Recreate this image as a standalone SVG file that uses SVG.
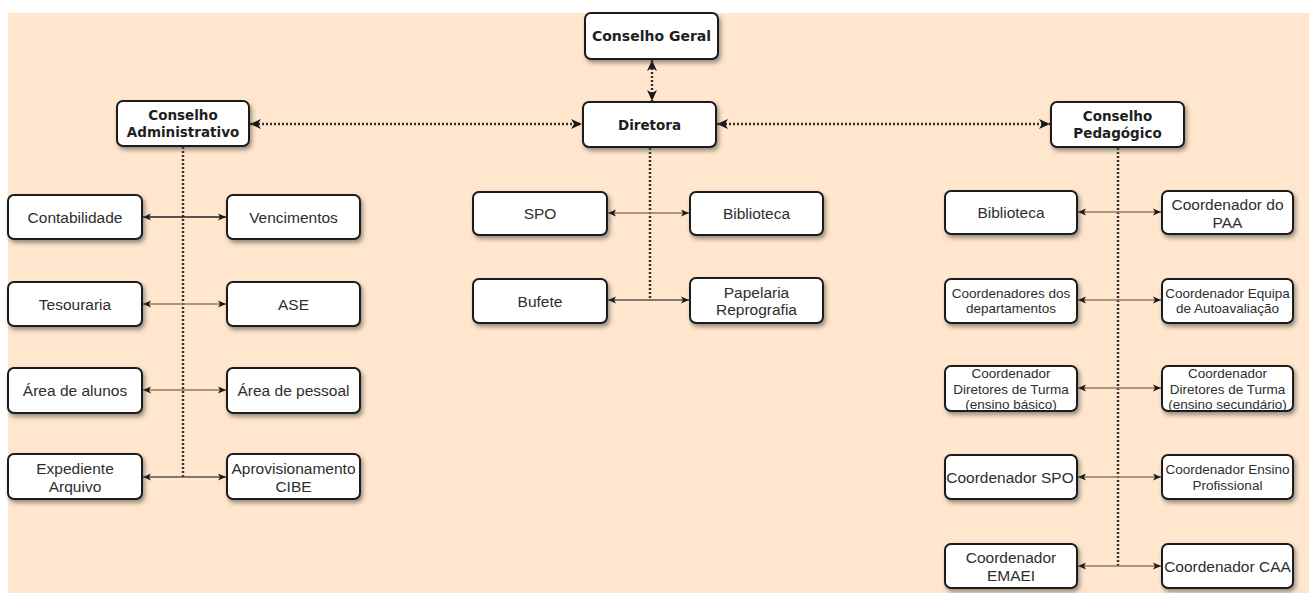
<svg xmlns="http://www.w3.org/2000/svg" width="1309" height="593" viewBox="0 0 1309 593">
<defs>
<style>
.bg{fill:#ffe6cc}
.box{fill:#ffffff;stroke:#1a1a1a;stroke-width:2;filter:url(#sh)}
.t{font-family:"Liberation Sans",Arial,sans-serif;font-size:15.5px;fill:#2e2e2e;text-anchor:middle;dominant-baseline:central}
.s{font-size:13.5px}
.h{font-family:"DejaVu Sans",Verdana,sans-serif;font-weight:bold;font-size:13.5px;fill:#1e1e1e;text-anchor:middle;dominant-baseline:central}
.dot{fill:none;stroke:#333;stroke-width:2.5;stroke-dasharray:2 2}
.dotA{fill:none;stroke:#333;stroke-width:2.5;stroke-dasharray:2 2;marker-start:url(#ab);marker-end:url(#ab)}
.ln{fill:none;stroke:#8c7a6a;stroke-width:1.3;marker-start:url(#a);marker-end:url(#a)}
.lnd{fill:none;stroke:#222;stroke-width:1.6;marker-start:url(#a);marker-end:url(#a)}
</style>
<filter id="sh" x="-10%" y="-20%" width="130%" height="160%">
<feDropShadow dx="2" dy="3" stdDeviation="2" flood-color="#444" flood-opacity="0.55"/>
</filter>
<marker id="a" viewBox="0 0 8 8" refX="8" refY="4" markerWidth="8" markerHeight="8" markerUnits="userSpaceOnUse" orient="auto-start-reverse">
<path d="M0,0.5 L8,4 L0,7.5 L2,4 z" fill="#1a1a1a"/>
</marker>
<marker id="ab" viewBox="0 0 11 11" refX="11" refY="5.5" markerWidth="11" markerHeight="11" markerUnits="userSpaceOnUse" orient="auto-start-reverse">
<path d="M0,0.5 L11,5.5 L0,10.5 L3,5.5 z" fill="#1a1a1a"/>
</marker>
</defs>
<rect class="bg" x="8" y="13" width="1301" height="580"/>

<g id="connectors">
<line class="dotA" x1="652" y1="60" x2="652" y2="101"/>
<line class="dotA" x1="250" y1="124" x2="582" y2="124"/>
<line class="dotA" x1="717" y1="124" x2="1050" y2="124"/>
<line class="dot" x1="183" y1="147" x2="183" y2="477"/>
<line class="dot" x1="650" y1="148" x2="650" y2="300"/>
<line class="dot" x1="1118" y1="148" x2="1118" y2="566"/>
<line class="lnd" x1="143" y1="217" x2="226" y2="217"/>
<line class="ln" x1="143" y1="304" x2="226" y2="304"/>
<line class="ln" x1="143" y1="390" x2="226" y2="390"/>
<line class="lnd" x1="143" y1="477" x2="226" y2="477" style="stroke:#555"/>
<line class="ln" x1="608" y1="213" x2="689" y2="213"/>
<line class="lnd" x1="608" y1="300" x2="689" y2="300" style="stroke:#555"/>
<line class="ln" x1="1078" y1="212" x2="1161" y2="212"/>
<line class="ln" x1="1078" y1="300" x2="1161" y2="300"/>
<line class="ln" x1="1078" y1="388" x2="1161" y2="388"/>
<line class="ln" x1="1078" y1="477" x2="1161" y2="477"/>
<line class="ln" x1="1078" y1="566" x2="1161" y2="566"/>
</g>

<g id="conselho-geral"><rect class="box" x="585" y="13" width="133" height="46" rx="6"/><text class="h" x="651.5" y="36" style="font-size:14px">Conselho Geral</text></g>
<g id="diretora"><rect class="box" x="583" y="102" width="133" height="45" rx="6"/><text class="h" x="649.5" y="124.5">Diretora</text></g>
<g id="conselho-administrativo"><rect class="box" x="117" y="101" width="132" height="45" rx="6"/><text class="h" x="183" y="115">Conselho</text><text class="h" x="183" y="132">Administrativo</text></g>
<g id="conselho-pedagogico"><rect class="box" x="1051" y="102" width="133" height="45" rx="6"/><text class="h" x="1117.5" y="116">Conselho</text><text class="h" x="1117.5" y="133">Pedagógico</text></g>

<g id="contabilidade"><rect class="box" x="8" y="195" width="134" height="44" rx="6"/><text class="t" x="75" y="217">Contabilidade</text></g>
<g id="vencimentos"><rect class="box" x="227" y="195" width="133" height="44" rx="6"/><text class="t" x="293.5" y="217">Vencimentos</text></g>
<g id="tesouraria"><rect class="box" x="8" y="282" width="134" height="44" rx="6"/><text class="t" x="75" y="304">Tesouraria</text></g>
<g id="ase"><rect class="box" x="227" y="282" width="133" height="44" rx="6"/><text class="t" x="293.5" y="304">ASE</text></g>
<g id="area-alunos"><rect class="box" x="8" y="368" width="134" height="45" rx="6"/><text class="t" x="75" y="390.5">Área de alunos</text></g>
<g id="area-pessoal"><rect class="box" x="227" y="368" width="133" height="45" rx="6"/><text class="t" x="293.5" y="390.5">Área de pessoal</text></g>
<g id="expediente"><rect class="box" x="8" y="454" width="134" height="45" rx="6"/><text class="t" x="75" y="468">Expediente</text><text class="t" x="75" y="486">Arquivo</text></g>
<g id="aprovisionamento"><rect class="box" x="227" y="454" width="133" height="45" rx="6"/><text class="t" x="293.5" y="468">Aprovisionamento</text><text class="t" x="293.5" y="486">CIBE</text></g>

<g id="spo"><rect class="box" x="473" y="192" width="134" height="43" rx="6"/><text class="t" x="540" y="213.5">SPO</text></g>
<g id="biblioteca-d"><rect class="box" x="690" y="192" width="133" height="43" rx="6"/><text class="t" x="756.5" y="213.5">Biblioteca</text></g>
<g id="bufete"><rect class="box" x="473" y="279" width="134" height="44" rx="6"/><text class="t" x="540" y="301">Bufete</text></g>
<g id="papelaria"><rect class="box" x="690" y="278" width="133" height="45" rx="6"/><text class="t" x="756.5" y="292">Papelaria</text><text class="t" x="756.5" y="309">Reprografia</text></g>

<g id="biblioteca-p"><rect class="box" x="945" y="191" width="132" height="43" rx="6"/><text class="t" x="1011" y="212.5">Biblioteca</text></g>
<g id="coord-paa"><rect class="box" x="1162" y="191" width="131" height="43" rx="6"/><text class="t" x="1227.5" y="204">Coordenador do</text><text class="t" x="1227.5" y="222">PAA</text></g>
<g id="coord-departamentos"><rect class="box" x="945" y="279" width="132" height="44" rx="6"/><text class="t s" x="1011" y="293">Coordenadores dos</text><text class="t s" x="1011" y="308.5">departamentos</text></g>
<g id="coord-autoavaliacao"><rect class="box" x="1162" y="279" width="131" height="44" rx="6"/><text class="t s" x="1227.5" y="293">Coordenador Equipa</text><text class="t s" x="1227.5" y="308.5">de Autoavaliação</text></g>
<g id="coord-dt-basico"><rect class="box" x="945" y="366" width="132" height="45" rx="6"/><text class="t s" x="1011" y="373">Coordenador</text><text class="t s" x="1011" y="389">Diretores de Turma</text><text class="t s" x="1011" y="404">(ensino básico)</text></g>
<g id="coord-dt-secundario"><rect class="box" x="1162" y="366" width="131" height="45" rx="6"/><text class="t s" x="1227.5" y="373">Coordenador</text><text class="t s" x="1227.5" y="389">Diretores de Turma</text><text class="t s" x="1227.5" y="404">(ensino secundário)</text></g>
<g id="coord-spo"><rect class="box" x="945" y="455" width="132" height="44" rx="6"/><text class="t" x="1010" y="477">Coordenador SPO</text></g>
<g id="coord-ensino-profissional"><rect class="box" x="1162" y="455" width="131" height="44" rx="6"/><text class="t s" x="1227.5" y="469">Coordenador Ensino</text><text class="t s" x="1227.5" y="485.5">Profissional</text></g>
<g id="coord-emaei"><rect class="box" x="945" y="544" width="132" height="44" rx="6"/><text class="t" x="1011" y="557">Coordenador</text><text class="t" x="1011" y="575">EMAEI</text></g>
<g id="coord-caa"><rect class="box" x="1162" y="544" width="131" height="44" rx="6"/><text class="t" x="1227.5" y="566">Coordenador CAA</text></g>
</svg>
